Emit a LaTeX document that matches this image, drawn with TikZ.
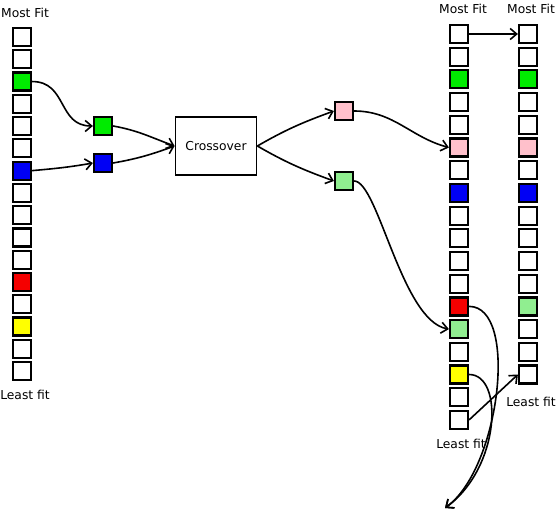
\documentclass[tikz,border=0pt]{standalone}
\usepackage{fontspec}
\setmainfont{DejaVu Sans}
\usetikzlibrary{positioning,arrows.meta}
\definecolor{fitgreen}{RGB}{0,235,0}
\definecolor{fitblue}{RGB}{0,0,245}
\definecolor{fitred}{RGB}{245,0,0}
\definecolor{fityellow}{RGB}{255,255,0}
\definecolor{fitpink}{RGB}{255,192,203}
\definecolor{fitlight}{RGB}{144,238,144}

\begin{document}
\begin{tikzpicture}[x=1pt,y=1pt,
cell/.style={draw, line width=2.2pt, minimum size=18pt, inner sep=0pt},
tag/.style={inner sep=0pt, font=\fontsize{12.3}{14}\selectfont},
link/.style={line width=1.6pt, -{Straight Barb[length=6.5pt,width=11pt]}},
]
\useasboundingbox (0,0) rectangle (557,-519);
\foreach \c [count=\i from 0] in {white,white,fitgreen,white,white,white,fitblue,white,
white,white,white,fitred,white,fityellow,white,white}
\node[cell, fill=\c] (l\i) at (22,{-37-22.27*\i}) {};
\foreach \c [count=\i from 0] in {white,white,fitgreen,white,white,fitpink,white,fitblue,white,
white,white,white,fitred,fitlight,white,fityellow,white,white}
\node[cell, fill=\c] (m\i) at (459,{-34-22.7*\i}) {};
\foreach \c [count=\i from 0] in {white,white,fitgreen,white,white,fitpink,white,fitblue,white,
white,white,white,fitlight,white,white,white}
\node[cell, fill=\c] (r\i) at (528,{-34-22.7*\i}) {};

\node[tag, above=9pt of l0, xshift=3pt] (lmost) {Most Fit};
\node[tag, below=9pt of l15, xshift=3pt] (lleast) {Least fit};
\node[tag, above=10pt of m0, xshift=4pt] (mmost) {Most Fit};
\node[tag, below=9pt of m17, xshift=2pt] (mleast) {Least fit};
\node[tag, above=10pt of r0, xshift=3pt] (rmost) {Most Fit};
\node[tag, below=12pt of r15, xshift=3pt] (rleast) {Least fit};

\node[cell, fill=fitgreen] (pg) at (103,-126) {};
\node[cell, fill=fitblue] (pb) at (103,-163) {};
\node[tag, draw, line width=1.8pt, minimum width=81pt, minimum height=58pt] (cross) at (216,-146) {Crossover};
\node[cell, fill=fitpink] (cp) at (344,-111) {};
\node[cell, fill=fitlight] (cg) at (344,-181) {};
\coordinate (bin) at (445,-508);

\draw[link] (l2.east) to[out=0,in=180,looseness=1.2] (pg.west);
\draw[link] (l6.east) to[out=5,in=190] (pb.west);
\draw[link] (pg.east) to[out=-10,in=160] (cross.west);
\draw[link] (pb.east) to[out=10,in=200] (cross.west);
\draw[link] (cross.east) to[out=30,in=200] (cp.west);
\draw[link] (cross.east) to[out=-30,in=160] (cg.west);
\draw[link] (cp.east) to[out=0,in=165] (m5.west);
\draw[link] (cg.east) to[out=0,in=170,out looseness=0.35,in looseness=0.7] (m13.west);
\draw[link] (m0.east) -- (r0.west);
\draw[link] (m17.east) -- (r15.west);
\draw[link] (m12.east) to[out=0,in=36,out looseness=0.63,in looseness=0.86] (bin);
\draw[link] (m15.east) to[out=0,in=36,out looseness=0.66,in looseness=1.29] (bin);
\end{tikzpicture}
\end{document}
